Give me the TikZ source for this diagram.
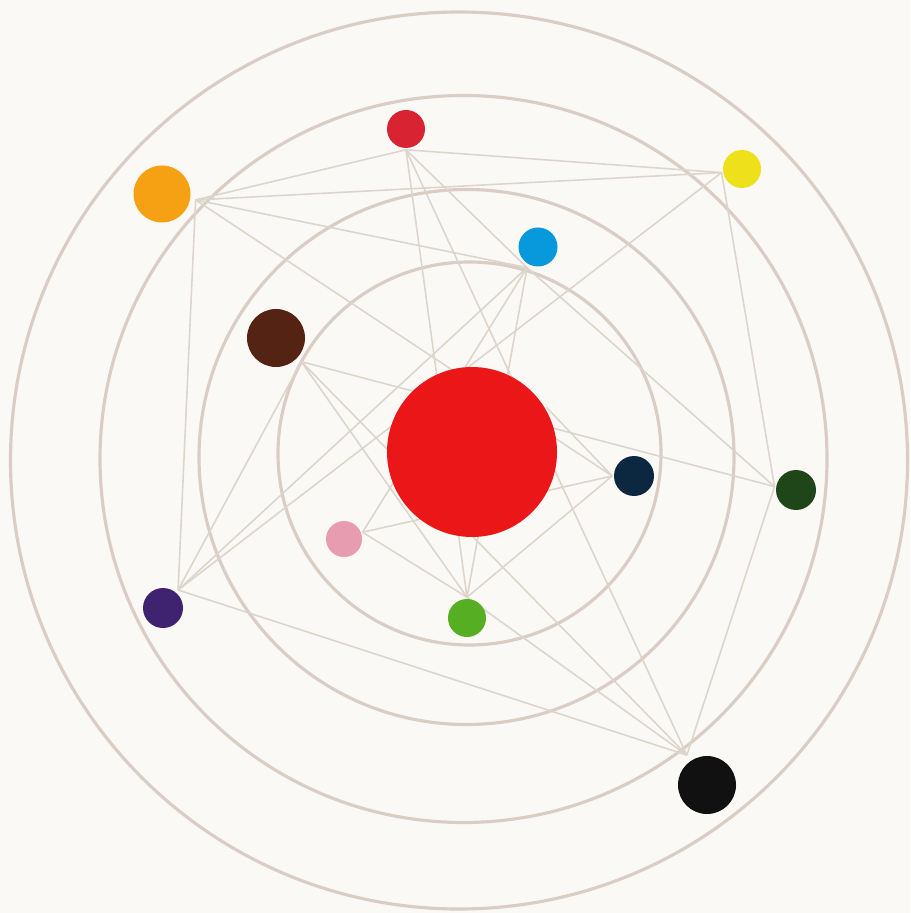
\documentclass[tikz,border=0pt]{standalone}
\usepackage{tikz}
\usetikzlibrary{backgrounds}
\definecolor{PaperWhite}{HTML}{FBF9F6}
\definecolor{RingBeige}{HTML}{D9CDC5}
\definecolor{LinkBeige}{HTML}{DCD5CC}
\definecolor{SunRed}{HTML}{EB1618}
\definecolor{CrimsonRed}{HTML}{D82432}
\definecolor{AmberOrange}{HTML}{F6A013}
\definecolor{LemonYellow}{HTML}{EEE11B}
\definecolor{SkyBlue}{HTML}{0898DC}
\definecolor{ChestnutBrown}{HTML}{542314}
\definecolor{InkNavy}{HTML}{0C2841}
\definecolor{ForestGreen}{HTML}{1F4619}
\definecolor{RosePink}{HTML}{E79CAF}
\definecolor{PlumPurple}{HTML}{402370}
\definecolor{LeafGreen}{HTML}{56AF23}
\definecolor{CoalBlack}{HTML}{111111}
\tikzset{
    % Base planet style
    planet/.style={
        circle,
        draw=none,
        inner sep=0pt,
        outer sep=0.5pt
    },
    % Orbit ring style
    orbit/.style={
        draw=RingBeige,
        line width=0.9pt
    },
    % Link style (straight lines only)
    link/.style={
        draw=LinkBeige,
        line width=0.45pt
    }
}
\begin{document}
\begin{tikzpicture}
    \useasboundingbox (0,0) rectangle (9.10,-9.13);

    % Central sun
    \node[planet, fill=SunRed, minimum size=1.70cm] (sun) at (4.72,-4.52) {};

    % Planets
    \node[planet, fill=CrimsonRed, minimum size=0.38cm] (red) at (4.06,-1.29) {};
    \node[planet, fill=AmberOrange, minimum size=0.57cm, outer sep=1.6pt] (orange) at (1.62,-1.94) {};
    \node[planet, fill=LemonYellow, minimum size=0.38cm] (yellow) at (7.42,-1.69) {};
    \node[planet, fill=SkyBlue, minimum size=0.39cm, outer sep=1.1pt] (blue) at (5.38,-2.47) {};
    \node[planet, fill=ChestnutBrown, minimum size=0.58cm, outer sep=1.6pt] (brown) at (2.76,-3.38) {};
    \node[planet, fill=InkNavy, minimum size=0.40cm] (navy) at (6.34,-4.76) {};
    \node[planet, fill=ForestGreen, minimum size=0.40cm] (forest) at (7.96,-4.90) {};
    \node[planet, fill=RosePink, minimum size=0.36cm] (pink) at (3.44,-5.39) {};
    \node[planet, fill=PlumPurple, minimum size=0.40cm, outer sep=1pt] (purple) at (1.63,-6.08) {};
    \node[planet, fill=LeafGreen, minimum size=0.38cm] (leaf) at (4.67,-6.18) {};
    \node[planet, fill=CoalBlack, minimum size=0.58cm, outer sep=2pt] (coal) at (7.07,-7.85) {};

    \begin{scope}[on background layer]
        % Paper and orbits
        \fill[PaperWhite] (0,0) rectangle (9.10,-9.13);
        \draw[orbit] (4.59,-4.605) circle (4.485);
        \draw[orbit] (4.635,-4.59) circle (3.635);
        \draw[orbit] (4.665,-4.57) circle (2.675);
        \draw[orbit] (4.695,-4.535) circle (1.915);

        % Links from orange and red
        \draw[link] (orange.-10) -- (red.south);
        \draw[link] (orange.-10) -- (yellow.190);
        \draw[link] (orange.-10) -- (blue.242);
        \draw[link] (orange.-10) -- (navy.west);
        \draw[link] (orange.-10) -- (purple.50);
        \draw[link] (red.south) -- (yellow.190);
        \draw[link] (red.south) -- (blue.242);
        \draw[link] (red.south) -- (leaf.north);
        \draw[link] (red.south) -- (coal.124);

        % Links from yellow and blue
        \draw[link] (yellow.190) -- (purple.50);
        \draw[link] (yellow.190) -- (forest.171);
        \draw[link] (blue.242) -- (purple.50);
        \draw[link] (blue.242) -- (pink.20);
        \draw[link] (blue.242) -- (leaf.north);
        \draw[link] (blue.242) -- (forest.171);

        % Links from brown
        \draw[link] (brown.-43) -- (forest.171);
        \draw[link] (brown.-43) -- (coal.124);
        \draw[link] (brown.-43) -- (leaf.north);
        \draw[link] (brown.-43) -- (purple.50);

        % Links in the lower half
        \draw[link] (sun.31) -- (navy.west);
        \draw[link] (pink.20) -- (navy.west);
        \draw[link] (pink.20) -- (leaf.north);
        \draw[link] (leaf.north) -- (navy.west);
        \draw[link] (leaf.north) -- (coal.124);
        \draw[link] (purple.50) -- (coal.124);
        \draw[link] (forest.171) -- (coal.124);
    \end{scope}
\end{tikzpicture}
\end{document}
